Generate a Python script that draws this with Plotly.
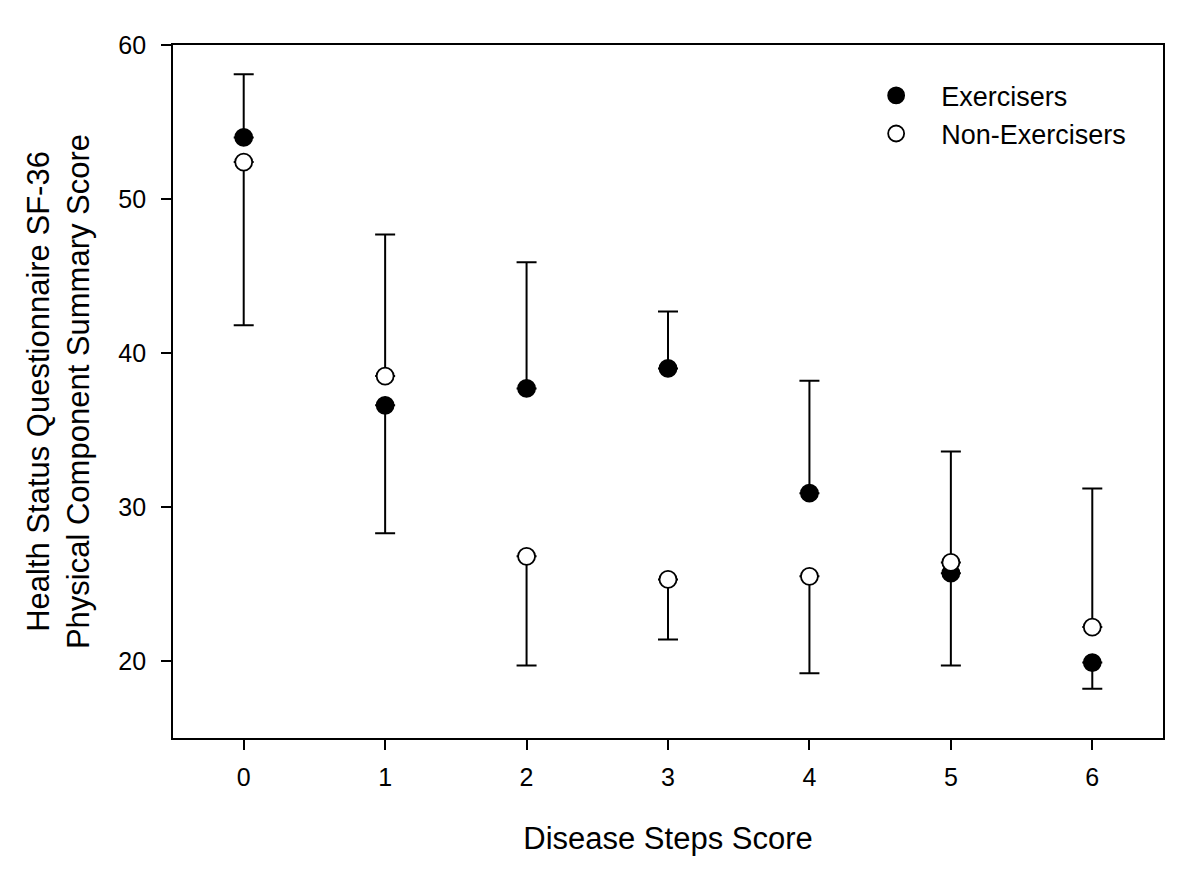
import plotly.graph_objects as go

steps = [0, 1, 2, 3, 4, 5, 6]
tick_labels = ["0", "1", "2", "3", "4", "5", "6"]

ex_mean = [54.0, 36.6, 37.7, 39.0, 30.9, 25.7, 19.9]
ex_upper = [58.1, None, 45.9, 42.7, 38.2, None, None]
ex_lower = [None, 28.3, None, None, None, 19.7, 18.2]

non_mean = [52.4, 38.5, 26.8, 25.3, 25.5, 26.4, 22.2]
non_upper = [None, 47.7, None, None, None, 33.6, 31.2]
non_lower = [41.8, None, 19.7, 21.4, 19.2, None, None]


def errs(mean, bounds, up):
    out = []
    for m, b in zip(mean, bounds):
        out.append(0 if b is None else (b - m if up else m - b))
    return out


FONT = "Liberation Sans, Arial, sans-serif"

fig = go.Figure()
for name, mean, up, lo, fill in [
    ("Exercisers", ex_mean, ex_upper, ex_lower, "black"),
    ("Non-Exercisers", non_mean, non_upper, non_lower, "white"),
]:
    fig.add_trace(go.Scatter(
        x=steps, y=mean, mode="markers", name=name,
        marker=dict(size=17, color=fill, line=dict(color="black", width=1.8)),
        error_y=dict(type="data", symmetric=False,
                     array=errs(mean, up, True), arrayminus=errs(mean, lo, False),
                     color="black", thickness=2, width=10),
    ))

fig.update_layout(
    width=1200, height=878,
    paper_bgcolor="white", plot_bgcolor="white",
    margin=dict(l=173, r=37, t=45, b=140),
    font=dict(family=FONT, color="black"),
    showlegend=True,
    legend=dict(x=0.685, y=0.962, xanchor="left", yanchor="top",
                font=dict(size=27, family=FONT), bgcolor="rgba(0,0,0,0)",
                tracegroupgap=0, itemwidth=80),
    xaxis=dict(range=[-0.5, 6.5], tickmode="array", tickvals=steps, ticktext=tick_labels,
               showgrid=False, zeroline=False, showline=True, linecolor="black", linewidth=1.8,
               mirror=True, ticks="outside", ticklen=10, tickwidth=1.5, tickcolor="black",
               tickfont=dict(size=25, family=FONT), ticklabelstandoff=6,
               title=dict(text="Disease Steps Score", font=dict(size=31, family=FONT), standoff=37)),
    yaxis=dict(range=[15, 60], tickvals=[20, 30, 40, 50, 60],
               showgrid=False, zeroline=False, showline=True, linecolor="black", linewidth=1.8,
               mirror=True, ticks="outside", ticklen=10, tickwidth=1.5, tickcolor="black",
               tickfont=dict(size=25, family=FONT), ticklabelstandoff=10,
               title=dict(text="Health Status Questionnaire SF-36<br>Physical Component Summary Score",
                          font=dict(size=31, family=FONT), standoff=19)),
)

fig.write_html("out.html", config={"displayModeBar": False},
               post_script="document.body.style.margin='0px';")
